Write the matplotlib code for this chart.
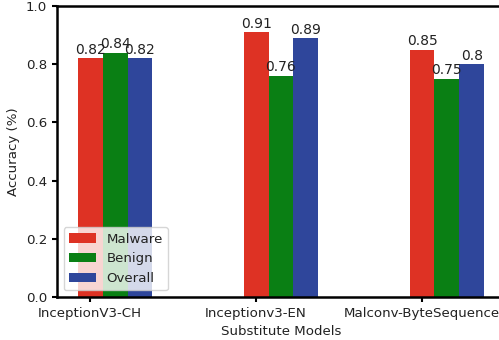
import numpy as np
import matplotlib
matplotlib.use("Agg")
import matplotlib.pyplot as plt

models = ['InceptionV3-CH', 'Inceptionv3-EN', 'Malconv-ByteSequence']
malware = [0.82, 0.91, 0.85]
benign = [0.84, 0.76, 0.75]
overall = [0.82, 0.89, 0.8]

plt.rcParams['font.size'] = 9.6
plt.rcParams['text.color'] = '#222222'
plt.rcParams['xtick.labelcolor'] = '#222222'
plt.rcParams['ytick.labelcolor'] = '#222222'
plt.rcParams['axes.labelcolor'] = '#222222'

fig = plt.figure(figsize=(4.99, 3.4), dpi=100)
ax = fig.add_axes([57/499, 43/340, 505/499 - 57/499, 291/340])

x = np.arange(len(models))
w = 0.15
b1 = ax.bar(x, malware, w, color='#de3224', label='Malware')
b2 = ax.bar(x + w, benign, w, color='#0a7f14', label='Benign')
b3 = ax.bar(x + 2*w, overall, w, color='#2f469b', label='Overall')

# value labels on top of the bars
for bars in (b1, b2, b3):
    for rect in bars:
        h = rect.get_height()
        ax.text(rect.get_x() + rect.get_width()/2, h + 0.005, str(h),
                ha='center', va='bottom', fontsize=10)

ax.set_xticks(x)
ax.set_xticklabels(models)
ax.set_ylim(0, 1.0)
ax.set_xlim(-0.2, 2.5)
ax.set_xlabel('Substitute Models')
ax.set_ylabel('Accuracy (%)')
for s in ax.spines.values():
    s.set_linewidth(1.8)
ax.tick_params(width=1.5)
ax.legend(loc='lower left')

fig.savefig('out.png', dpi=100)
